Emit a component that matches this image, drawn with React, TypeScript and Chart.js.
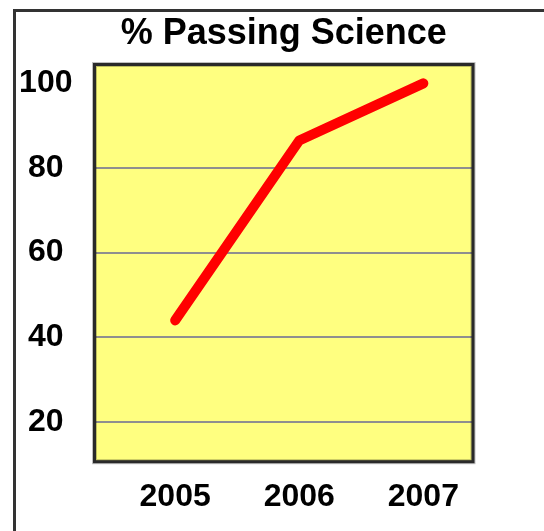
import React, { useEffect, useRef } from "react";
import { Chart, registerables } from "chart.js";

Chart.register(...registerables);

const years = [2005, 2006, 2007];
const passing = [44, 86.5, 100];
const yTicks = [20, 40, 60, 80, 100];
const titleText = "% Passing Science";

const FONT = "'Liberation Sans', Arial, sans-serif";

const plotPlugin = {
  id: "plotBox",
  beforeDraw(chart: any) {
    const { ctx, chartArea: a } = chart;
    ctx.save();
    ctx.fillStyle = "#ffff80";
    ctx.fillRect(a.left, a.top, a.right - a.left, a.bottom - a.top);
    ctx.restore();
  },
  beforeDatasetsDraw(chart: any) {
    const { ctx, chartArea: a } = chart;
    ctx.save();
    ctx.strokeStyle = "rgba(0,0,0,0.25)";
    ctx.lineWidth = 5;
    ctx.strokeRect(a.left, a.top, a.right - a.left, a.bottom - a.top);
    ctx.strokeStyle = "#2a2a2a";
    ctx.lineWidth = 3;
    ctx.strokeRect(a.left, a.top, a.right - a.left, a.bottom - a.top);
    ctx.restore();
  },
};

export default function App() {
  const ref = useRef<HTMLCanvasElement | null>(null);

  useEffect(() => {
    if (!ref.current) return;
    const chart = new Chart(ref.current, {
      type: "line",
      data: {
        datasets: [
          {
            data: years.map((y, i) => ({ x: y, y: passing[i] })),
            borderColor: "#ff0000",
            borderWidth: 10,
            borderCapStyle: "round",
            borderJoinStyle: "round",
            pointRadius: 0,
            tension: 0,
            fill: false,
          },
        ],
      },
      options: {
        animation: false,
        responsive: false,
        maintainAspectRatio: false,
        layout: { padding: { left: 0, right: 71, top: 0, bottom: 0 } },
        plugins: {
          legend: { display: false },
          tooltip: { enabled: false },
          title: {
            display: true,
            fullSize: false,
            text: titleText,
            color: "#000",
            font: { family: FONT, size: 36, weight: "bold", lineHeight: 1 },
            padding: { top: 16, bottom: 12.5 },
          },
        },
        scales: {
          x: {
            type: "linear",
            min: 2004.35,
            max: 2007.4,
            afterBuildTicks: (s: any) => {
              s.ticks = years.map((v) => ({ value: v }));
            },
            afterFit: (s: any) => {
              s.height = 531 - 461.7;
            },
            grid: { display: false, drawTicks: false },
            border: { display: false },
            ticks: {
              color: "#000",
              padding: 16,
              maxRotation: 0,
              autoSkip: false,
              font: { family: FONT, size: 32, weight: "bold" },
              callback: (v: any) => String(v),
            },
          },
          y: {
            type: "linear",
            min: 10.62,
            max: 104.45,
            afterBuildTicks: (s: any) => {
              s.ticks = yTicks.map((v) => ({ value: v }));
            },
            afterFit: (s: any) => {
              s.width = 94.5;
            },
            grid: {
              drawTicks: false,
              lineWidth: 2,
              color: (c: any) =>
                c.tick && c.tick.value === 100 ? "rgba(0,0,0,0)" : "#8f8f8f",
            },
            border: { display: false },
            ticks: {
              color: "#000",
              padding: 22,
              crossAlign: "center",
              font: { family: FONT, size: 32, weight: "bold" },
              callback: (v: any) => String(v),
            },
          },
        },
      },
      plugins: [plotPlugin],
    } as any);
    return () => chart.destroy();
  }, []);

  return (
    <div
      style={{
        position: "fixed",
        left: 0,
        top: 0,
        width: 544,
        height: 531,
        background: "#fff",
        overflow: "hidden",
      }}
    >
      <div
        style={{
          position: "absolute",
          left: 13,
          top: 9,
          right: -10,
          bottom: -10,
          borderLeft: "3px solid #333",
          borderTop: "3px solid #333",
        }}
      />
      <canvas
        ref={ref}
        width={544}
        height={531}
        style={{ position: "absolute", left: 0, top: 0, width: 544, height: 531 }}
      />
    </div>
  );
}
